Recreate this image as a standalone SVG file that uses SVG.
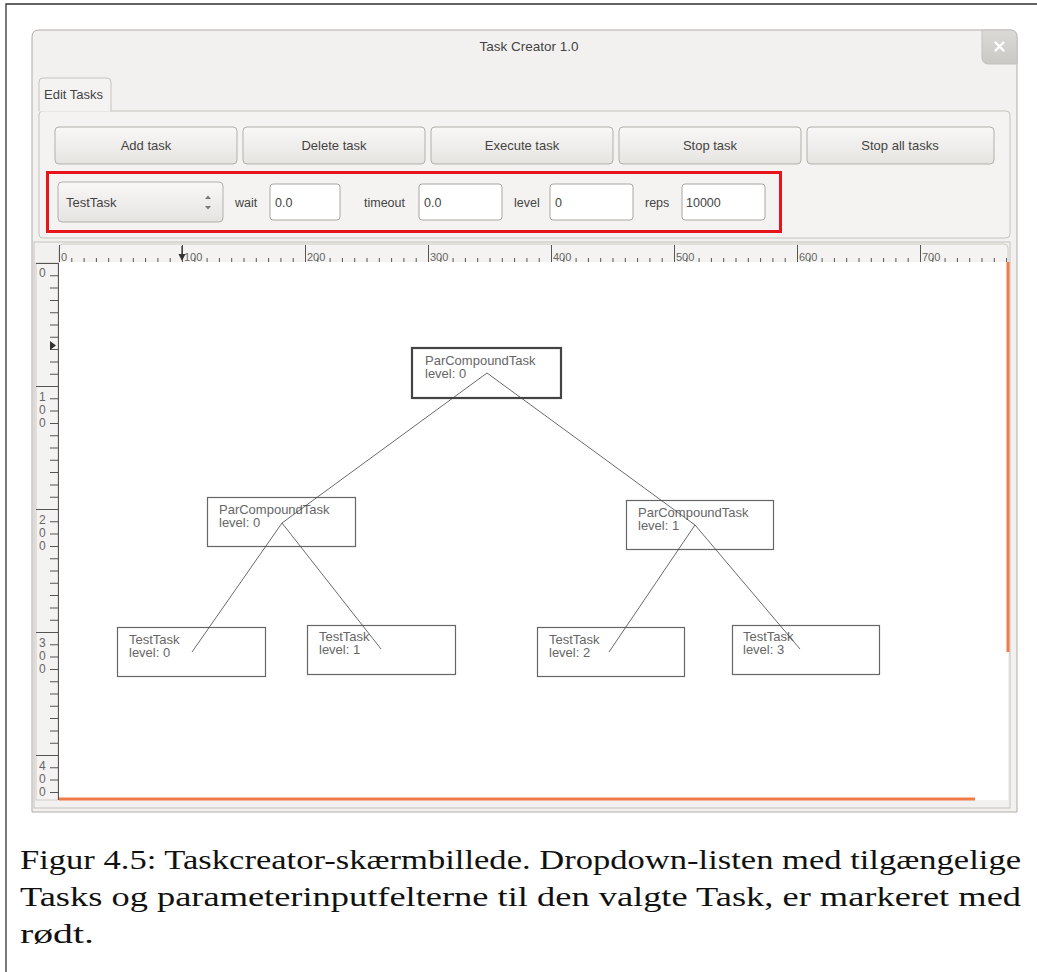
<svg xmlns="http://www.w3.org/2000/svg" width="1037" height="972" viewBox="0 0 1037 972">
  <defs>
    <linearGradient id="btnGrad" x1="0" y1="0" x2="0" y2="1">
      <stop offset="0" stop-color="#f9f8f7"/>
      <stop offset="1" stop-color="#e6e4e1"/>
    </linearGradient>
    <linearGradient id="closeGrad" x1="0" y1="0" x2="0" y2="1">
      <stop offset="0" stop-color="#dcdad7"/>
      <stop offset="1" stop-color="#cbc9c6"/>
    </linearGradient>
    <style>
      .ui { font-family: "Liberation Sans", Arial, sans-serif; font-size: 12.5px; fill: #444; }
      .btn { fill: url(#btnGrad); stroke: #b3afa9; stroke-width: 1; }
      .btn-label { font-family: "Liberation Sans", Arial, sans-serif; font-size: 13px; fill: #444; text-anchor: middle; }
      .field { fill: #fff; stroke: #aaa6a0; stroke-width: 1; }
      .ruler-num { font-family: "Liberation Sans", Arial, sans-serif; font-size: 11px; fill: #666; }
      .ruler-digit { font-family: "Liberation Sans", Arial, sans-serif; font-size: 12px; fill: #666; }
      .tick { stroke: #555; stroke-width: 1; }
      .node rect { fill: #fff; stroke: #666; stroke-width: 1.2; }
      .node text { font-family: "Liberation Sans", Arial, sans-serif; font-size: 13px; fill: #666; }
      .root rect { stroke: #444; stroke-width: 2.2; }
      .edge { stroke: #444; stroke-width: 0.8; fill: none; }
      .caption { font-family: "Liberation Serif", "Times New Roman", serif; font-size: 27px; fill: #111; }
    </style>
  </defs>

  <rect width="1037" height="972" fill="#fff"/>

  <!-- outer figure frame -->
  <path d="M6,972 V4 H1037" fill="none" stroke="#333" stroke-width="1.3"/>

  <!-- application window -->
  <g id="window">
    <path d="M32,812 V37 Q32,30 39,30 H1010 Q1017,30 1017,37 V812 Z" fill="#f2f1f0" stroke="#b0aca6" stroke-width="1"/>
    <text class="ui" x="529" y="51" text-anchor="middle" fill="#333" style="font-size:13.5px">Task Creator 1.0</text>
    <path d="M982,30 H1010 Q1017,30 1017,37 V64 H989 Q982,64 982,57 Z" fill="url(#closeGrad)" stroke="#c2c0bd" stroke-width="1"/>
    <path d="M995.5,42.5 L1003.5,50.5 M1003.5,42.5 L995.5,50.5" stroke="#fff" stroke-width="2.4" stroke-linecap="round"/>
  </g>

  <!-- tab and panel -->
  <g id="tab">
    <rect x="39" y="111" width="971" height="127" rx="4" fill="#f4f3f2" stroke="#c6c2bc" stroke-width="1"/>
    <path d="M39,111.5 V82 Q39,78 43,78 H107 Q111,78 111,82 V111.5" fill="#f4f3f2" stroke="#c6c2bc" stroke-width="1"/>
    <text class="ui" x="44" y="99" fill="#333" style="font-size:13px">Edit Tasks</text>
  </g>

  <!-- toolbar buttons -->
  <g id="btn-add"><rect class="btn" x="55" y="127" width="182" height="37" rx="4"/><text class="btn-label" x="146" y="150">Add task</text></g>
  <g id="btn-delete"><rect class="btn" x="243" y="127" width="182" height="37" rx="4"/><text class="btn-label" x="334" y="150">Delete task</text></g>
  <g id="btn-execute"><rect class="btn" x="431" y="127" width="182" height="37" rx="4"/><text class="btn-label" x="522" y="150">Execute task</text></g>
  <g id="btn-stop"><rect class="btn" x="619" y="127" width="182" height="37" rx="4"/><text class="btn-label" x="710" y="150">Stop task</text></g>
  <g id="btn-stopall"><rect class="btn" x="807" y="127" width="187" height="37" rx="4"/><text class="btn-label" x="900" y="150">Stop all tasks</text></g>

  <!-- task selector and parameter fields -->
  <g id="params">
    <rect class="btn" x="58" y="182" width="165" height="40" rx="4"/>
    <text class="ui" x="66" y="207" style="font-size:13px">TestTask</text>
    <path d="M205,199 L208,195.5 L211,199 Z M205,206 L208,209.5 L211,206 Z" fill="#777"/>

    <text class="ui" x="235" y="207">wait</text>
    <rect class="field" x="270" y="184" width="70" height="36" rx="3"/>
    <text class="ui" x="275" y="207" fill="#222">0.0</text>

    <text class="ui" x="364" y="207">timeout</text>
    <rect class="field" x="419" y="184" width="83" height="36" rx="3"/>
    <text class="ui" x="424" y="207" fill="#222">0.0</text>

    <text class="ui" x="514" y="207">level</text>
    <rect class="field" x="550" y="184" width="83" height="36" rx="3"/>
    <text class="ui" x="555" y="207" fill="#222">0</text>

    <text class="ui" x="645" y="207">reps</text>
    <rect class="field" x="682" y="184" width="83" height="36" rx="3"/>
    <text class="ui" x="686" y="207" fill="#222">10000</text>

    <rect x="47.5" y="172.5" width="733" height="59" fill="none" stroke="#e8141c" stroke-width="3"/>
  </g>

  <!-- graphics view with rulers -->
  <g id="view">
    <rect x="34" y="242" width="976" height="566" fill="#f2f1ef" stroke="#c6c2bc" stroke-width="1"/>
    <path d="M59,262 V248 Q59,244 63,244 H1004 Q1008,244 1008,248 V262" fill="#f4f3f1" stroke="#d0ccc6" stroke-width="1"/>
    <rect x="36" y="263" width="22" height="537" fill="#f4f3f1" stroke="#d0ccc6" stroke-width="1"/>
    <rect x="59" y="262" width="949" height="538" fill="#fff"/>

    <!-- horizontal ruler -->
    <line x1="59" y1="260" x2="1007" y2="260" stroke="#555" stroke-width="4" stroke-dasharray="1 11.3"/>
    <path class="tick" d="M59.5,245 V262 M182.5,245 V262 M305.5,245 V262 M428.5,245 V262 M551.5,245 V262 M674.5,245 V262 M797.5,245 V262 M920.5,245 V262"/>
    <text class="ruler-num" x="61" y="261">0</text>
    <text class="ruler-num" x="184" y="261">100</text>
    <text class="ruler-num" x="307" y="261">200</text>
    <text class="ruler-num" x="430" y="261">300</text>
    <text class="ruler-num" x="553" y="261">400</text>
    <text class="ruler-num" x="676" y="261">500</text>
    <text class="ruler-num" x="799" y="261">600</text>
    <text class="ruler-num" x="922" y="261">700</text>
    <path d="M182,246 V256" stroke="#333" stroke-width="1.2"/>
    <path d="M178.5,254 L185.5,254 L182,261 Z" fill="#333"/>

    <!-- vertical ruler -->
    <line x1="54" y1="263" x2="54" y2="800" stroke="#555" stroke-width="8" stroke-dasharray="1 11.3"/>
    <path class="tick" d="M36,263.5 H58 M36,386.5 H58 M36,509.5 H58 M36,632.5 H58 M36,755.5 H58 M58.5,263 V800"/>
    <text class="ruler-digit" x="39" y="277">0</text>
    <text class="ruler-digit" x="39" y="401">1</text>
    <text class="ruler-digit" x="39" y="414">0</text>
    <text class="ruler-digit" x="39" y="427">0</text>
    <text class="ruler-digit" x="39" y="524">2</text>
    <text class="ruler-digit" x="39" y="537">0</text>
    <text class="ruler-digit" x="39" y="550">0</text>
    <text class="ruler-digit" x="39" y="647">3</text>
    <text class="ruler-digit" x="39" y="660">0</text>
    <text class="ruler-digit" x="39" y="673">0</text>
    <text class="ruler-digit" x="39" y="770">4</text>
    <text class="ruler-digit" x="39" y="783">0</text>
    <text class="ruler-digit" x="39" y="796">0</text>
    <path d="M50,341 L56,345.5 L50,350 Z" fill="#333"/>

    <!-- scene bounds -->
    <line x1="1008" y1="262" x2="1008" y2="652" stroke="#f07a48" stroke-width="3"/>
    <line x1="59" y1="799" x2="975" y2="799" stroke="#f07a48" stroke-width="3"/>
  </g>

  <!-- task nodes -->
  <g id="node-root" class="node root">
    <rect x="412" y="348" width="149" height="50"/>
    <text x="425" y="365">ParCompoundTask</text>
    <text x="425" y="378">level: 0</text>
  </g>
  <g id="node-par-left" class="node">
    <rect x="207.5" y="497.5" width="148" height="49"/>
    <text x="219" y="514">ParCompoundTask</text>
    <text x="219" y="527">level: 0</text>
  </g>
  <g id="node-par-right" class="node">
    <rect x="626.5" y="500.5" width="147" height="49"/>
    <text x="638" y="517">ParCompoundTask</text>
    <text x="638" y="530">level: 1</text>
  </g>
  <g id="node-test-0" class="node">
    <rect x="117.5" y="627.5" width="148" height="49"/>
    <text x="129" y="644">TestTask</text>
    <text x="129" y="657">level: 0</text>
  </g>
  <g id="node-test-1" class="node">
    <rect x="307.5" y="625.5" width="148" height="49"/>
    <text x="319" y="641">TestTask</text>
    <text x="319" y="654">level: 1</text>
  </g>
  <g id="node-test-2" class="node">
    <rect x="537.5" y="627.5" width="147" height="49"/>
    <text x="549" y="644">TestTask</text>
    <text x="549" y="657">level: 2</text>
  </g>
  <g id="node-test-3" class="node">
    <rect x="732.5" y="625.5" width="147" height="49"/>
    <text x="743" y="641">TestTask</text>
    <text x="743" y="654">level: 3</text>
  </g>

  <!-- connectors -->
  <g id="connectors">
    <line class="edge" x1="487" y1="373" x2="282" y2="523"/>
    <line class="edge" x1="487" y1="373" x2="695" y2="525"/>
    <line class="edge" x1="282" y1="523" x2="192" y2="652"/>
    <line class="edge" x1="282" y1="523" x2="381" y2="649"/>
    <line class="edge" x1="695" y1="525" x2="609" y2="652"/>
    <line class="edge" x1="695" y1="525" x2="800" y2="649"/>
  </g>

  <!-- caption, set justified -->
  <g id="caption">
    <text class="caption" x="20" y="869" textLength="1001" lengthAdjust="spacingAndGlyphs">Figur 4.5: Taskcreator-skærmbillede. Dropdown-listen med tilgængelige</text>
    <text class="caption" x="20" y="906" textLength="1001" lengthAdjust="spacingAndGlyphs">Tasks og parameterinputfelterne til den valgte Task, er markeret med</text>
    <text class="caption" x="20" y="943" textLength="74" lengthAdjust="spacingAndGlyphs">rødt.</text>
  </g>
</svg>
